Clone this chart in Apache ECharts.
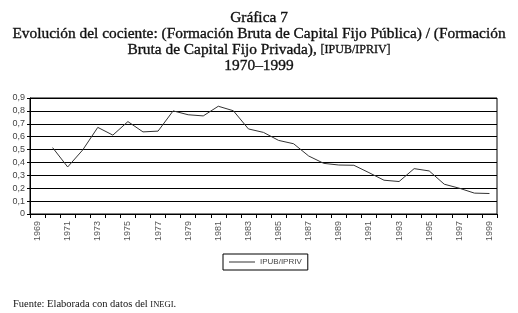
<!DOCTYPE html>
<html><head><meta charset="utf-8">
<script src="https://cdn.jsdelivr.net/npm/echarts@6/dist/echarts.min.js"></script>
<style>html,body{margin:0;padding:0;background:#fff}#c{width:518px;height:313px}</style>
</head><body><div id="c"></div>
<script>
const years = ['1969','1970','1971','1972','1973','1974','1975','1976','1977','1978','1979','1980','1981','1982','1983','1984','1985','1986','1987','1988','1989','1990','1991','1992','1993','1994','1995','1996','1997','1998','1999'];
const ratio = [null,0.515,0.365,0.497,0.672,0.612,0.717,0.637,0.643,0.800,0.770,0.761,0.836,0.801,0.660,0.633,0.571,0.545,0.450,0.393,0.380,0.378,0.321,0.262,0.252,0.352,0.334,0.231,0.200,0.162,0.159];
const yTicks = [0,0.1,0.2,0.3,0.4,0.5,0.6,0.7,0.8,0.9];
const seriesName = 'IPUB/IPRIV';

const chart = echarts.init(document.getElementById('c'));
const serif = '"Liberation Serif", "DejaVu Serif", serif';
const sans = '"Liberation Sans", Arial, sans-serif';
const tStyle = {fontFamily:serif,fontSize:15.4,fontWeight:'normal',color:'#111',textBorderColor:'#111',textBorderWidth:0.35};
chart.setOption({
  animation:false,
  backgroundColor:'#fff',
  title:[
    {text:'Gráfica 7', left:'center', top:5, textStyle:tStyle},
    {text:'Evolución del cociente: (Formación Bruta de Capital Fijo Pública) / (Formación', left:'center', top:21, textStyle:tStyle},
    {text:'Bruta de Capital Fijo Privada), {s|[IPUB/IPRIV]}', left:'center', top:37, textStyle:Object.assign({},tStyle,{rich:{s:{fontFamily:serif,fontSize:12,color:'#111',textBorderColor:'#111',textBorderWidth:0.3}}})},
    {text:'1970–1999', left:'center', top:53, textStyle:tStyle},
    {text:'Fuente: Elaborada con datos del {s|INEGI}.', left:8, top:294, textStyle:{fontFamily:serif,fontSize:10.5,fontWeight:'normal',color:'#111',rich:{s:{fontFamily:serif,fontSize:8.5,color:'#111'}}}}
  ],
  grid:{left:30,right:21,top:98,height:116,show:true,borderColor:'#000',borderWidth:1,containLabel:false},
  legend:{
    data:[seriesName], left:223, top:254, width:75, height:18,
    orient:'horizontal', itemWidth:26, itemHeight:2, itemGap:4,
    padding:[4,6,4,6], borderColor:'#000', borderWidth:1,
    icon:'path://M0,0L26,0L26,1L0,1Z',
    textStyle:{fontFamily:sans,fontSize:8,color:'#444'}
  },
  xAxis:{
    type:'category', data:years, boundaryGap:true,
    axisLine:{lineStyle:{color:'#000',width:1}},
    axisTick:{show:true,interval:0,length:4,lineStyle:{color:'#000'}},
    axisLabel:{interval:1,rotate:90,fontFamily:sans,fontSize:9,color:'#555',margin:7},
    splitLine:{show:false}
  },
  yAxis:{
    type:'value', min:0, max:0.9, interval:0.1,
    axisLine:{show:true,lineStyle:{color:'#000'}},
    axisTick:{show:true,length:3,lineStyle:{color:'#000'}},
    axisLabel:{fontFamily:sans,fontSize:9,color:'#444',margin:5,
      formatter:v=>{const t=yTicks.find(x=>Math.abs(x-v)<1e-9);return (t===undefined?v:t).toFixed(t===0?0:1).replace('.',',');}},
    splitLine:{show:true,lineStyle:{color:'#000',width:1}}
  },
  series:[{
    name:seriesName, type:'line', data:ratio, symbol:'none', connectNulls:false,
    lineStyle:{color:'#333',width:1}, itemStyle:{color:'#333'}
  }]
});
</script></body></html>
